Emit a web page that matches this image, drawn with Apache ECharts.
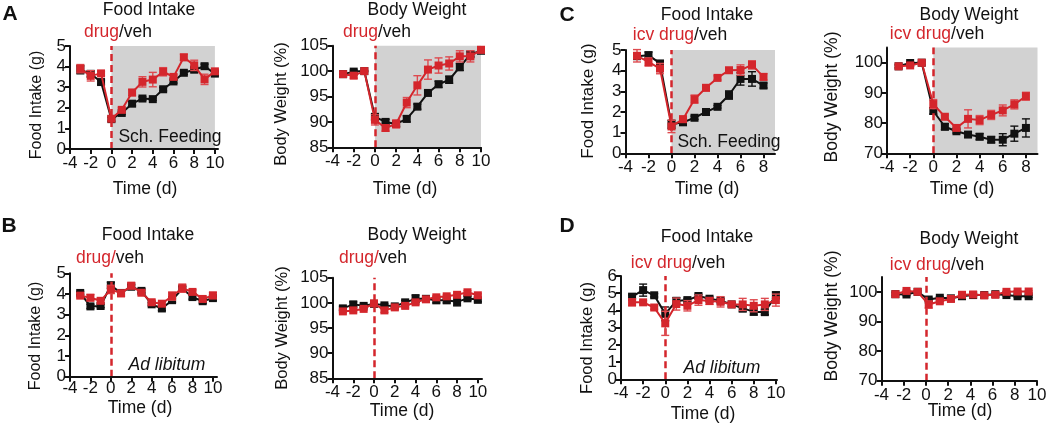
<!DOCTYPE html>
<html>
<head>
<meta charset="utf-8">
<script src="https://cdn.jsdelivr.net/npm/echarts@6.0.0/dist/echarts.min.js"></script>
<style>html,body{margin:0;padding:0;background:#fff}#c{width:1050px;height:426px}</style>
</head>
<body>
<div id="c"></div>
<script>
// ---------- data ----------
const daysA = [-3,-2,-1,0,1,2,3,4,5,6,7,8,9,10];
const daysC = [-3,-2,-1,0,1,2,3,4,5,6,7,8];
const daysB = [-3,-2,-1,0,1,2,3,4,5,6,7,8,9,10];
const daysD = [-3,-2,-1,0,1,2,3,4,5,6,7,8,9,10];
const daysDbw = [-2.75,-1.75,-0.75,0.25,1.25,2.25,3.25,4.25,5.25,6.25,7.25,8.25,9.25];

const xTicks10 = [-4,-2,0,2,4,6,8,10];
const xTicks8 = [-4,-2,0,2,4,6,8];
const yTicksFi5 = [0,1,2,3,4,5];
const yTicksFi6 = [0,1,2,3,4,5,6];
const yTicksBwAB = [85,90,95,100,105];
const yTicksBwCD = [70,80,90,100];

// A - Food intake
const aFiVeh     = [3.85,3.65,3.25,1.45,1.75,2.2,2.45,2.42,2.9,3.28,3.7,3.85,4.02,3.66];
const aFiVehErr  = [0.2,0.15,0.1,0.1,0.08,0.1,0.08,0.06,0.08,0.08,0.08,0.1,0.1,0.1];
const aFiDrug    = [3.9,3.55,3.67,1.47,1.9,2.74,3.26,3.37,3.75,3.5,4.45,4.06,3.38,3.77];
const aFiDrugErr = [0.2,0.25,0.1,0.1,0.1,0.15,0.25,0.35,0.2,0.1,0.15,0.25,0.25,0.1];
// A - Body weight
const aBwVeh     = [99.4,99.9,100.0,91.0,90.0,89.6,90.6,93.0,95.7,97.4,98.3,100.8,103.3,104.0];
const aBwVehErr  = [0.3,0.3,0.1,0.6,0.5,0.5,0.6,0.5,0.5,0.6,0.7,0.7,0.5,0.5];
const aBwDrug    = [99.4,99.1,100.0,90.4,88.8,89.6,93.8,97.2,100.3,101.1,101.5,102.9,102.9,104.2];
const aBwDrugErr = [0.3,0.5,0.1,1.0,0.6,0.8,1.0,1.9,1.9,1.5,1.3,1.1,1.1,0.6];
// C - Food intake
const cFiVeh     = [4.7,4.75,4.35,1.4,1.5,1.72,2.0,2.25,2.82,3.6,3.6,3.28];
const cFiVehErr  = [0.15,0.15,0.1,0.2,0.08,0.08,0.06,0.06,0.2,0.3,0.35,0.12];
const cFiDrug    = [4.72,4.42,4.1,1.3,1.65,2.62,3.17,3.65,4.02,4.03,4.28,3.7];
const cFiDrugErr = [0.3,0.2,0.25,0.3,0.15,0.2,0.15,0.1,0.08,0.25,0.2,0.15];
// C - Body weight
const cBwVeh     = [98.8,99.9,100.0,84.0,78.8,77.3,76.2,75.5,74.5,74.5,76.5,78.4];
const cBwVehErr  = [0.5,0.4,0.2,1.0,1.0,0.6,0.9,1.0,1.0,2.0,2.5,3.0];
const cBwDrug    = [98.8,99.1,100.0,86.3,82.1,78.4,81.4,81.0,82.7,84.2,86.2,88.9];
const cBwDrugErr = [0.5,0.4,0.2,1.5,0.6,0.6,3.0,1.5,1.5,1.8,1.5,1.3];
// B - Food intake
const bFiVeh     = [4.05,3.4,3.42,4.42,4.05,4.35,4.15,3.5,3.3,3.7,4.25,3.85,3.65,3.8];
const bFiVehErr  = [0.08,0.1,0.08,0.15,0.1,0.1,0.1,0.08,0.1,0.1,0.1,0.1,0.1,0.1];
const bFiDrug    = [3.92,3.82,3.67,4.22,4.03,4.4,4.06,3.6,3.53,3.9,4.28,4.1,3.76,3.93];
const bFiDrugErr = [0.1,0.15,0.1,0.2,0.15,0.15,0.1,0.1,0.1,0.2,0.2,0.1,0.1,0.15];
// B - Body weight
const bBwVeh     = [98.9,99.7,99.4,99.8,99.5,99.3,100.1,100.8,100.8,100.5,100.5,100.2,100.9,100.6];
const bBwVehErr  = [0.4,0.5,0.3,0.3,0.3,0.3,0.4,0.8,0.3,0.5,0.5,0.8,0.4,0.4];
const bBwDrug    = [98.3,98.5,98.8,99.9,98.5,99.1,99.4,100.1,100.7,101.1,101.3,101.6,102.1,101.5];
const bBwDrugErr = [0.3,0.3,0.3,0.4,0.4,0.3,0.4,0.4,0.3,0.3,0.3,0.3,0.3,0.3];
// D - Food intake
const dFiVeh     = [4.8,5.18,4.88,3.8,4.55,4.6,4.84,4.68,4.57,4.35,4.12,3.93,3.9,4.88];
const dFiVehErr  = [0.1,0.35,0.1,0.4,0.2,0.1,0.1,0.1,0.1,0.1,0.2,0.2,0.15,0.2];
const dFiDrug    = [4.47,4.47,4.17,3.25,4.37,4.27,4.6,4.55,4.5,4.35,4.35,4.27,4.35,4.6];
const dFiDrugErr = [0.2,0.1,0.1,0.7,0.35,0.3,0.3,0.2,0.3,0.15,0.35,0.35,0.35,0.35];
// D - Body weight
const dBwVeh     = [99.2,99.1,100.0,97.4,98.0,97.8,98.5,98.9,98.9,99.2,98.9,98.5,98.5];
const dBwVehErr  = [0.4,0.4,0.3,0.5,0.4,0.4,0.4,0.3,0.3,0.3,0.3,0.4,0.4];
const dBwDrug    = [99.2,100.3,100.0,95.7,96.8,97.6,99.0,99.1,98.8,99.0,100.0,100.1,100.1];
const dBwDrugErr = [0.3,0.3,0.3,1.2,0.6,0.5,0.4,0.3,0.3,0.3,0.3,0.3,0.3];

// ---------- style ----------
const RED = '#d4262c';
const RED_ERR = '#de4a4f';
const BLACK = '#111111';
const GRAY = '#d2d2d2';
const FONT = '"Liberation Sans", Arial, sans-serif';

const panels = [
  {days: daysA, veh: aFiVeh, vehErr: aFiVehErr, drug: aFiDrug, drugErr: aFiDrugErr,
   rect: [70, 46, 148, 103], x: [-4, 10.3], y: [0, 5], xt: xTicks10, yt: yTicksFi5, shade: 10, m: 6},
  {days: daysA, veh: aBwVeh, vehErr: aBwVehErr, drug: aBwDrug, drugErr: aBwDrugErr,
   rect: [332.5, 45.7, 148.5, 101.6], x: [-4, 10], y: [85, 105], xt: xTicks10, yt: yTicksBwAB, shade: 10, m: 6},
  {days: daysC, veh: cFiVeh, vehErr: cFiVehErr, drug: cFiDrug, drugErr: cFiDrugErr,
   rect: [625.5, 50, 149.5, 103.3], x: [-4, 9], y: [0, 5], xt: xTicks8, yt: yTicksFi5, shade: 9, m: 6},
  {days: daysC, veh: cBwVeh, vehErr: cBwVehErr, drug: cBwDrug, drugErr: cBwDrugErr,
   rect: [887, 47.6, 150.5, 105.7], x: [-4, 9], y: [70, 105], xt: xTicks8, yt: yTicksBwCD, shade: 9, m: 6},
  {days: daysB, veh: bFiVeh, vehErr: bFiVehErr, drug: bFiDrug, drugErr: bFiDrugErr,
   rect: [70, 273.3, 147, 103.4], x: [-4, 10.4], y: [0, 5], xt: xTicks10, yt: yTicksFi5, m: 3},
  {days: daysB, veh: bBwVeh, vehErr: bBwVehErr, drug: bBwDrug, drugErr: bBwDrugErr,
   rect: [332.5, 277.7, 149.5, 100.6], x: [-4, 10.4], y: [85, 105], xt: xTicks10, yt: yTicksBwAB, m: 6},
  {days: daysD, veh: dFiVeh, vehErr: dFiVehErr, drug: dFiDrug, drugErr: dFiDrugErr,
   rect: [621, 276, 156, 103.3], x: [-4, 10.1], y: [0, 6], xt: xTicks10, yt: yTicksFi6, m: 6},
  {days: daysDbw, veh: dBwVeh, vehErr: dBwVehErr, drug: dBwDrug, drugErr: dBwDrugErr,
   rect: [881.5, 277, 155.5, 103.7], x: [-4, 10], y: [70, 105], xt: xTicks10, yt: yTicksBwCD, m: 6}
];

const grids = [], xAxes = [], yAxes = [], series = [];

function errRender(color) {
  return function (params, api) {
    const x = api.value(0), lo = api.value(1), hi = api.value(2);
    const p1 = api.coord([x, lo]), p2 = api.coord([x, hi]);
    const w = 4;
    const st = {stroke: color, lineWidth: 1.4};
    return {type: 'group', children: [
      {type: 'line', shape: {x1: p1[0], y1: p1[1], x2: p2[0], y2: p2[1]}, style: st},
      {type: 'line', shape: {x1: p1[0] - w, y1: p1[1], x2: p1[0] + w, y2: p1[1]}, style: st},
      {type: 'line', shape: {x1: p2[0] - w, y1: p2[1], x2: p2[0] + w, y2: p2[1]}, style: st}
    ]};
  };
}

panels.forEach((p, i) => {
  grids.push({left: p.rect[0], top: p.rect[1], width: p.rect[2], height: p.rect[3], containLabel: false});
  const axisCommon = {
    gridIndex: i, type: 'value', z: 10,
    axisLine: {show: true, onZero: false, lineStyle: {color: BLACK, width: 2}},
    splitLine: {show: false}
  };
  xAxes.push(Object.assign({}, axisCommon, {
    min: p.x[0], max: p.x[1],
    axisTick: {show: true, length: 5, inside: false, customValues: p.xt, lineStyle: {color: BLACK, width: 2}},
    axisLabel: {customValues: p.xt, fontSize: 17, color: BLACK, margin: p.m, fontFamily: FONT}
  }));
  yAxes.push(Object.assign({}, axisCommon, {
    min: p.y[0], max: p.y[1],
    axisTick: {show: true, length: 5, inside: false, customValues: p.yt, lineStyle: {color: BLACK, width: 2}},
    axisLabel: {customValues: p.yt, fontSize: 17, color: BLACK, margin: 4, fontFamily: FONT}
  }));
  if (p.shade) {
    series.push({
      type: 'line', xAxisIndex: i, yAxisIndex: i, z: 1, silent: true,
      data: [[0, p.y[0]]], symbol: 'none', lineStyle: {opacity: 0},
      markArea: {silent: true, itemStyle: {color: GRAY},
        data: [[{xAxis: 0, yAxis: p.y[0]}, {xAxis: p.shade, yAxis: p.y[1]}]]}
    });
  }
  series.push({
    type: 'line', xAxisIndex: i, yAxisIndex: i, z: 2, silent: true,
    data: [[0, p.y[0]]], symbol: 'none', lineStyle: {opacity: 0},
    markLine: {silent: true, symbol: ['none', 'none'], label: {show: false},
      lineStyle: {color: RED, width: 2.5, type: [7, 4]},
      data: [{xAxis: 0}]}
  });
  const vehErrData = p.days.map((d, k) => [d, p.veh[k] - p.vehErr[k], p.veh[k] + p.vehErr[k]]);
  const drugErrData = p.days.map((d, k) => [d, p.drug[k] - p.drugErr[k], p.drug[k] + p.drugErr[k]]);
  series.push({type: 'custom', xAxisIndex: i, yAxisIndex: i, z: 3, renderItem: errRender(BLACK),
    data: vehErrData, encode: {x: 0, y: [1, 2]}});
  series.push({type: 'line', xAxisIndex: i, yAxisIndex: i, z: 4,
    data: p.days.map((d, k) => [d, p.veh[k]]),
    symbol: 'rect', symbolSize: 8, showAllSymbol: true,
    lineStyle: {color: BLACK, width: 2}, itemStyle: {color: BLACK}});
  series.push({type: 'custom', xAxisIndex: i, yAxisIndex: i, z: 5, renderItem: errRender(RED_ERR),
    data: drugErrData, encode: {x: 0, y: [1, 2]}});
  series.push({type: 'line', xAxisIndex: i, yAxisIndex: i, z: 6,
    data: p.days.map((d, k) => [d, p.drug[k]]),
    symbol: 'rect', symbolSize: 8, showAllSymbol: true,
    lineStyle: {color: RED, width: 2}, itemStyle: {color: RED}});
});

// ---------- texts ----------
function txt(x, y, text, size, opts) {
  opts = opts || {};
  return {
    type: 'text', x: x, y: y, z: 20, rotation: opts.rot || 0,
    style: {
      text: text, fill: BLACK, fontSize: size, fontFamily: FONT,
      fontWeight: opts.bold ? 'bold' : 'normal', fontStyle: opts.italic ? 'italic' : 'normal',
      align: 'center', verticalAlign: 'middle',
      textAlign: 'center', textVerticalAlign: 'middle',
      rich: {r: {fill: RED, fontSize: size, fontFamily: FONT}}
    }
  };
}
const R90 = Math.PI / 2;
const graphics = [
  txt(10, 14, 'A', 21, {bold: true}),
  txt(9, 226, 'B', 21, {bold: true}),
  txt(567, 15, 'C', 21, {bold: true}),
  txt(567, 226, 'D', 21, {bold: true}),

  txt(149, 10, 'Food Intake', 17.5),
  txt(118, 32, '{r|drug}/veh', 17.5),
  txt(417, 10, 'Body Weight', 17.5),
  txt(377, 32, '{r|drug}/veh', 17.5),
  txt(707, 15, 'Food Intake', 17.5),
  txt(680, 35, '{r|icv drug}/veh', 17.5),
  txt(969, 15, 'Body Weight', 17.5),
  txt(937, 34, '{r|icv drug}/veh', 17.5),
  txt(148, 235, 'Food Intake', 17.5),
  txt(110, 258, '{r|drug/}veh', 17.5),
  txt(417, 235, 'Body Weight', 17.5),
  txt(373, 258, '{r|drug/}veh', 17.5),
  txt(707, 237, 'Food Intake', 17.5),
  txt(678, 263, '{r|icv drug}/veh', 17.5),
  txt(969, 239, 'Body Weight', 17.5),
  txt(937, 265, '{r|icv drug}/veh', 17.5),

  txt(37, 105, 'Food Intake (g)', 16, {rot: R90}),
  txt(281, 104, 'Body Weight (%)', 16.5, {rot: R90}),
  txt(588, 101, 'Food Intake (g)', 17, {rot: R90}),
  txt(832, 97, 'Body Weight (%)', 17.5, {rot: R90}),
  txt(36, 336, 'Food Intake (g)', 16, {rot: R90}),
  txt(282, 328, 'Body Weight (%)', 16.5, {rot: R90}),
  txt(587, 338, 'Food Intake (g)', 16.5, {rot: R90}),
  txt(832, 316, 'Body Weight (%)', 17.5, {rot: R90}),

  txt(145, 189, 'Time (d)', 17.5),
  txt(405, 189, 'Time (d)', 17.5),
  txt(707, 189, 'Time (d)', 17.5),
  txt(962, 189, 'Time (d)', 17.5),
  txt(140, 408, 'Time (d)', 17.5),
  txt(402, 411, 'Time (d)', 17.5),
  txt(703, 414, 'Time (d)', 17.5),
  txt(960, 411, 'Time (d)', 17.5),

  txt(170, 137, 'Sch. Feeding', 17.5),
  txt(729, 142, 'Sch. Feeding', 17.5),
  txt(167, 365, 'Ad libitum', 17.5, {italic: true}),
  txt(722, 368, 'Ad libitum', 17.5, {italic: true})
];

const chart = echarts.init(document.getElementById('c'), null, {renderer: 'canvas'});
chart.setOption({
  animation: false,
  backgroundColor: '#ffffff',
  grid: grids, xAxis: xAxes, yAxis: yAxes, series: series,
  graphic: graphics
});
</script>
</body>
</html>
